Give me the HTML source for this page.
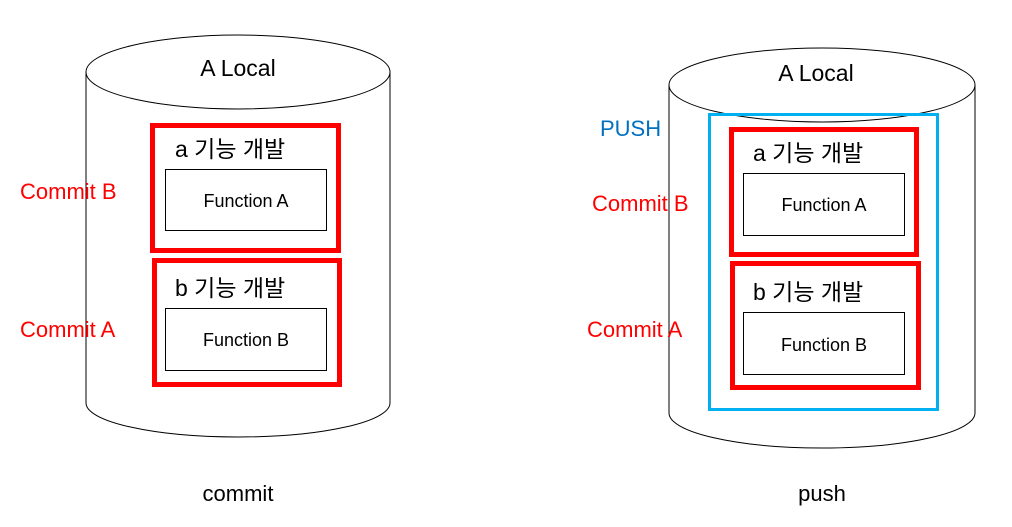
<!DOCTYPE html>
<html><head><meta charset="utf-8"><style>
html,body{margin:0;padding:0;background:#fff;}
svg text{font-family:"Liberation Sans","Noto Sans CJK KR",sans-serif;}
</style></head><body>
<svg width="1012" height="522" viewBox="0 0 1012 522" xmlns="http://www.w3.org/2000/svg">
<g fill="none" stroke="#000" stroke-width="1">
<path d="M86,72 L86,403 A152,34 0 0 0 390,403 L390,72"/>
<ellipse cx="238" cy="72" rx="152" ry="37"/>
<path d="M669,85 L669,413 A153,35 0 0 0 975,413 L975,85"/>
<ellipse cx="822" cy="85" rx="153" ry="37"/>
</g>
<g fill="none" stroke="#ff0000" stroke-width="5">
<rect x="152.5" y="125.5" width="186" height="125"/>
<rect x="154.5" y="260.5" width="185" height="124"/>
<rect x="731.5" y="129.5" width="185" height="125"/>
<rect x="732.5" y="263.5" width="186" height="124"/>
</g>
<rect x="709.5" y="114.5" width="228" height="295" fill="none" stroke="#00b0f0" stroke-width="3"/>
<g fill="none" stroke="#000" stroke-width="1">
<rect x="165.5" y="169.5" width="161" height="61"/>
<rect x="165.5" y="308.5" width="161" height="62"/>
<rect x="743.5" y="173.5" width="161" height="62"/>
<rect x="743.5" y="312.5" width="161" height="62"/>
</g>
<g font-size="23" fill="#000" text-anchor="middle">
<text x="238" y="76">A Local</text>
<text x="816" y="81">A Local</text>
</g>
<g font-size="23" fill="#000">
<text x="175" y="157">a 기능 개발</text>
<text x="175" y="296">b 기능 개발</text>
<text x="753" y="161">a 기능 개발</text>
<text x="753" y="300">b 기능 개발</text>
</g>
<g font-size="18" fill="#000" text-anchor="middle">
<text x="246" y="207">Function A</text>
<text x="246" y="346">Function B</text>
<text x="824" y="211">Function A</text>
<text x="824" y="351">Function B</text>
</g>
<g font-size="22" fill="#ff0000">
<text x="20" y="199">Commit B</text>
<text x="20" y="337">Commit A</text>
<text x="592" y="211">Commit B</text>
<text x="587" y="337">Commit A</text>
</g>
<text x="600" y="136" font-size="22" fill="#0070c0">PUSH</text>
<g font-size="22" fill="#000" text-anchor="middle">
<text x="238" y="501">commit</text>
<text x="822" y="501">push</text>
</g>
</svg>
</body></html>
